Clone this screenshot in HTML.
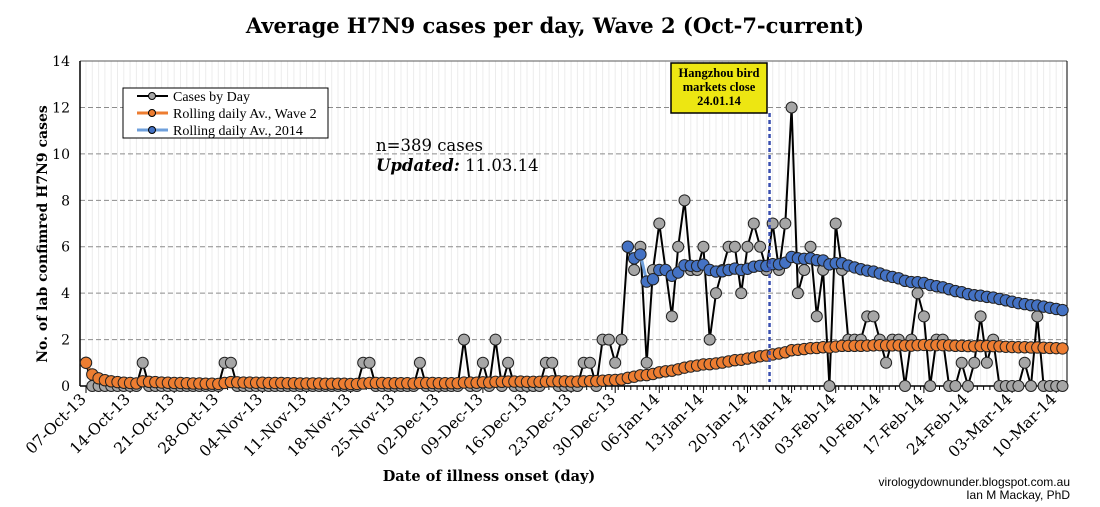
<!DOCTYPE html>
<html><head><meta charset="utf-8"><style>
html,body{margin:0;padding:0;background:#fff}
svg{display:block}
text{font-family:"Liberation Serif",serif}
.dj{font-family:"DejaVu Serif",serif}
</style></head><body>
<svg id="chart" width="1100" height="507" viewBox="0 0 1100 507">
<text class="dj" x="555" y="33" text-anchor="middle" font-size="21" font-weight="bold">Average H7N9 cases per day, Wave 2 (Oct-7-current)</text>
<g id="grid"></g>
<g id="axes"></g>
<g id="series"></g>
<text class="dj" transform="translate(47,234) rotate(-90)" text-anchor="middle" font-size="14" font-weight="bold">No. of lab confimred H7N9 cases</text>
<text class="dj" x="489" y="481" text-anchor="middle" font-size="14.5" font-weight="bold">Date of illness onset (day)</text>
<text x="1070" y="486" text-anchor="end" font-size="12" style="font-family:'Liberation Sans',sans-serif">virologydownunder.blogspot.com.au</text>
<text x="1070" y="499" text-anchor="end" font-size="12" style="font-family:'Liberation Sans',sans-serif">Ian M Mackay, PhD</text>
<g>
<rect x="123" y="88" width="205" height="50" fill="#fff" stroke="#000" stroke-width="1"/>
<g><line x1="137" y1="96" x2="168" y2="96" stroke="#000" stroke-width="2"/><circle cx="152" cy="96" r="3.5" fill="#a6a6a6" stroke="#000"/><text x="173" y="101" font-size="14">Cases by Day</text></g>
<g><line x1="137" y1="113" x2="168" y2="113" stroke="#ed7d31" stroke-width="3"/><circle cx="152" cy="113" r="3.5" fill="#ed7d31" stroke="#000"/><text x="173" y="118" font-size="14">Rolling daily Av., Wave 2</text></g>
<g><line x1="137" y1="130" x2="168" y2="130" stroke="#6fa0dc" stroke-width="3"/><circle cx="152" cy="130" r="3.5" fill="#4472c4" stroke="#000"/><text x="173" y="135" font-size="14">Rolling daily Av., 2014</text></g>
</g>
<text class="dj" x="376" y="151" font-size="16.5">n=389 cases</text>
<text class="dj" x="376" y="171" font-size="16.5"><tspan font-weight="bold" font-style="italic">Updated:</tspan> 11.03.14</text>
<g id="annot"></g>
</svg>
<script>
const tickLabels=["07-Oct-13","14-Oct-13","21-Oct-13","28-Oct-13","04-Nov-13","11-Nov-13","18-Nov-13","25-Nov-13","02-Dec-13","09-Dec-13","16-Dec-13","23-Dec-13","30-Dec-13","06-Jan-14","13-Jan-14","20-Jan-14","27-Jan-14","03-Feb-14","10-Feb-14","17-Feb-14","24-Feb-14","03-Mar-14","10-Mar-14"];
const yTicks=[0,2,4,6,8,10,12,14];
const cases=[1,0,0,0,0,0,0,0,0,1, 0,0,0,0,0,0,0,0,0,0, 0,0,1,1,0,0,0,0,0,0, 0,0,0,0,0,0,0,0,0,0, 0,0,0,0,1,1,0,0,0,0, 0,0,0,1,0,0,0,0,0,0, 2,0,0,1,0,2,0,1,0,0, 0,0,0,1,1,0,0,0,0,1, 1,0,2,2,1,2,6,5,6,1, 5,7,5,3,6,8,5,5,6,2, 4,5,6,6,4,6,7,6,5,7, 5,7,12,4,5,6,3,5,0,7, 5,2,2,2,3,3,2,1,2,2, 0,2,4,3,0,2,2,0,0,1, 0,1,3,1,2,0,0,0,0,1, 0,3,0,0,0,0];
const avgWave2=[1,0.5,0.33,0.25,0.2,0.17,0.14,0.13,0.11,0.2, 0.18,0.17,0.15,0.14,0.13,0.13,0.12,0.11,0.11,0.1, 0.1,0.09,0.13,0.17,0.16,0.15,0.15,0.14,0.14,0.13, 0.13,0.13,0.12,0.12,0.11,0.11,0.11,0.11,0.1,0.1, 0.1,0.1,0.09,0.09,0.11,0.13,0.13,0.13,0.12,0.12, 0.12,0.12,0.11,0.13,0.13,0.13,0.12,0.12,0.12,0.12, 0.15,0.15,0.14,0.16,0.15,0.18,0.18,0.19,0.19,0.19, 0.18,0.18,0.18,0.19,0.2,0.2,0.2,0.19,0.19,0.2, 0.21,0.21,0.23,0.25,0.26,0.28,0.35,0.4,0.46,0.47, 0.52,0.59,0.63,0.66,0.72,0.79,0.84,0.88,0.93,0.94, 0.97,1.01,1.06,1.11,1.13,1.18,1.23,1.28,1.31,1.36, 1.4,1.45,1.54,1.56,1.59,1.63,1.64,1.67,1.66,1.7, 1.73,1.73,1.73,1.73,1.74,1.75,1.76,1.75,1.75,1.75, 1.74,1.74,1.76,1.77,1.76,1.76,1.76,1.75,1.73,1.73, 1.72,1.71,1.72,1.72,1.72,1.71,1.69,1.68,1.67,1.67, 1.66,1.66,1.65,1.64,1.63,1.62];
const avg2014Start=86;
const avg2014=[6,5.5,5.67,4.5,4.6,5,5,4.75,4.89,5.2, 5.18,5.17,5.23,5,4.93,4.94,5,5.06,5,5.05, 5.14,5.18,5.17,5.25,5.24,5.31,5.56,5.5,5.48,5.5, 5.42,5.41,5.24,5.29,5.29,5.19,5.11,5.03,4.97,4.93, 4.85,4.76,4.7,4.64,4.53,4.48,4.47,4.44,4.35,4.3, 4.25,4.17,4.09,4.04,3.96,3.91,3.89,3.84,3.81,3.75, 3.69,3.63,3.57,3.53,3.48,3.47,3.42,3.37,3.32,3.27];
const marketCloseDay=108.5;

const NS="http://www.w3.org/2000/svg";
const X0=86,DX=6.3,Y0=386,DY=23.21;
const xS=d=>X0+d*DX, yS=v=>Y0-v*DY;
function mk(tag,attrs,parent){const e=document.createElementNS(NS,tag);for(const k in attrs)e.setAttribute(k,attrs[k]);parent.appendChild(e);return e;}
const grid=document.getElementById('grid'),axes=document.getElementById('axes'),ser=document.getElementById('series'),ann=document.getElementById('annot');
const plotL=80,plotR=1067,plotT=yS(14);
for(let d=0;d<cases.length;d++){const l=mk('line',{x1:xS(d),x2:xS(d),y1:plotT,y2:Y0,stroke:'#ececec','stroke-width':1},grid);

}
yTicks.forEach(v=>{if(v>0&&v<14){const g=mk('line',{x1:plotL,x2:plotR,y1:yS(v),y2:yS(v),stroke:'#8c8c8c','stroke-dasharray':'5,3','stroke-width':1},grid);

}
const t=mk('text',{x:70,y:yS(v)+5,'text-anchor':'end','font-size':14,'class':'dj'},axes);t.textContent=v;

});
mk('line',{x1:plotL,x2:plotR,y1:plotT,y2:plotT,stroke:'#595959','stroke-width':1},axes);
mk('line',{x1:plotR,x2:plotR,y1:plotT,y2:Y0,stroke:'#000','stroke-width':1},axes);
mk('line',{x1:plotL,x2:plotL,y1:plotT,y2:Y0,stroke:'#000','stroke-width':1.5},axes);
mk('line',{x1:plotL,x2:plotR,y1:Y0,y2:Y0,stroke:'#000','stroke-width':1.5},axes);
for(let d=0;d<cases.length;d++){mk('line',{x1:xS(d)+3,x2:xS(d)+3,y1:Y0,y2:Y0+4,stroke:'#000','stroke-width':1},axes);}
tickLabels.forEach((s,i)=>{const x=xS(i*7);mk('line',{x1:x,x2:x,y1:Y0,y2:Y0+7,stroke:'#000'},axes);
const t=mk('text',{x:x+1,y:Y0+14,'text-anchor':'end','font-size':15.5,'class':'dj',transform:`rotate(-45 ${x+1} ${Y0+14})`},axes);t.textContent=s;

});
const cg=mk('g',{},ser);


mk('polyline',{points:cases.map((v,d)=>xS(d)+','+yS(v)).join(' '),fill:'none',stroke:'#000','stroke-width':2},cg);
cases.forEach((v,d)=>{const c=mk('circle',{cx:xS(d),cy:yS(v),r:5.5,fill:'#a6a6a6',stroke:'#222','stroke-width':1},cg);

});
const bg=mk('g',{},ser);


mk('polyline',{points:avg2014.map((v,i)=>xS(i+avg2014Start)+','+yS(v)).join(' '),fill:'none',stroke:'#6fa0dc','stroke-width':3},bg);
avg2014.forEach((v,i)=>{const c=mk('circle',{cx:xS(i+avg2014Start),cy:yS(v),r:5.7,fill:'#4472c4',stroke:'#222','stroke-width':1},bg);

});
const og=mk('g',{},ser);


mk('polyline',{points:avgWave2.map((v,d)=>xS(d)+','+yS(v)).join(' '),fill:'none',stroke:'#ed7d31','stroke-width':3},og);
avgWave2.forEach((v,d)=>{const c=mk('circle',{cx:xS(d),cy:yS(v),r:5.7,fill:'#ed7d31',stroke:'#222','stroke-width':1},og);

});
const mx=xS(marketCloseDay);
const ml=mk('line',{x1:mx,x2:mx,y1:113,y2:382,stroke:'#3a4fb0','stroke-width':2.5,'stroke-dasharray':'4,3'},ann);


const box=mk('g',{},ann);


mk('rect',{x:671,y:63,width:96,height:50,fill:'#ede612',stroke:'#000','stroke-width':1.5},box);
[["Hangzhou bird",77],["markets close",91],["24.01.14",105]].forEach(([s,y])=>{const t=mk('text',{x:719,y:y,'text-anchor':'middle','font-size':12.5,'font-weight':'bold'},box);t.textContent=s;});
</script>
</body></html>
